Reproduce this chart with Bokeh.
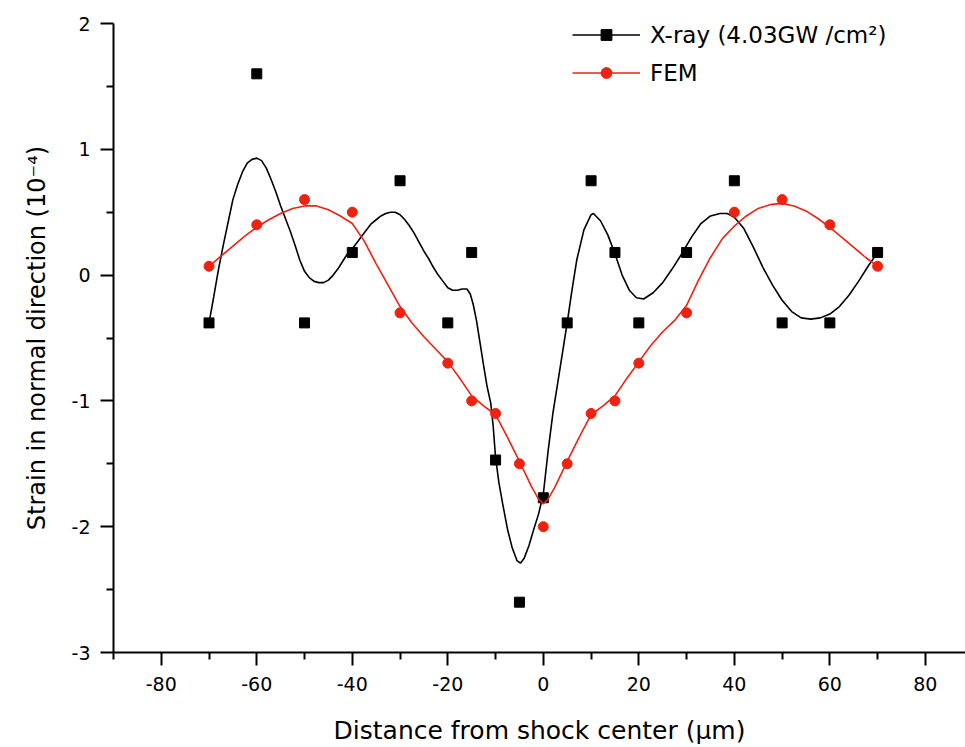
from bokeh.plotting import figure
from bokeh.models import Range1d, FixedTicker, Legend, LegendItem
from bokeh.embed import file_html
from bokeh.resources import INLINE

# Measured strain values (units of 1e-4) at each distance from the shock centre (um)
distance = [-70, -60, -50, -40, -30, -20, -15, -10, -5, 0, 5, 10, 15, 20, 30, 40, 50, 60, 70]
xray_strain = [-0.38, 1.6, -0.38, 0.18, 0.75, -0.38, 0.18, -1.47, -2.6, -1.77,
               -0.38, 0.75, 0.18, -0.38, 0.18, 0.75, -0.38, -0.38, 0.18]
fem_strain = [0.07, 0.4, 0.6, 0.5, -0.3, -0.7, -1.0, -1.1, -1.5, -2.0,
              -1.5, -1.1, -1.0, -0.7, -0.3, 0.5, 0.6, 0.4, 0.07]

# Smoothed fit curve through the X-ray measurements
xray_fit_x = [-70, -69, -68, -67, -66, -65, -64, -63, -62, -61, -60, -59, -58, -57, -56,
              -55, -54, -53, -52, -51, -50, -49, -48, -47, -46, -45, -44, -43, -42, -41,
              -40, -39, -38, -37, -36, -35, -34, -33, -32, -31, -30, -29, -28, -27, -26,
              -25, -24, -23, -22, -21, -20, -19, -18, -17, -16, -15.3, -14.7, -14, -13.2,
              -12.5, -11.8, -11, -10.5, -10, -9.3, -8.5, -7.5, -6.5, -5.5, -4.8, -4, -3,
              -2, -1, 0, 1, 2, 3, 4, 5, 6, 7, 8.5, 10, 10.5, 12, 13.5, 15, 16.5, 18,
              19.5, 21, 23, 25, 27, 29, 31, 33, 35, 37, 38.5, 40, 42, 44, 46, 48, 50,
              52, 54, 56, 58, 60, 62, 64, 66, 68, 70]
xray_fit_y = [-0.38, -0.17, 0.05, 0.24, 0.42, 0.6, 0.72, 0.82, 0.89, 0.92, 0.93, 0.91, 0.85,
              0.76, 0.66, 0.55, 0.45, 0.35, 0.24, 0.12, 0.03, -0.02, -0.05, -0.06, -0.06,
              -0.04, 0.0, 0.05, 0.11, 0.17, 0.21, 0.26, 0.31, 0.36, 0.41, 0.44, 0.47, 0.49,
              0.5, 0.5, 0.48, 0.44, 0.39, 0.33, 0.26, 0.19, 0.13, 0.06, 0.0, -0.05, -0.1,
              -0.12, -0.12, -0.11, -0.11, -0.15, -0.23, -0.36, -0.55, -0.72, -0.88, -1.02,
              -1.2, -1.45, -1.65, -1.82, -2.02, -2.17, -2.27, -2.29, -2.25, -2.15, -2.02,
              -1.9, -1.74, -1.4, -1.1, -0.86, -0.62, -0.38, -0.12, 0.12, 0.36, 0.48, 0.49,
              0.43, 0.32, 0.17, 0.0, -0.12, -0.18, -0.19, -0.14, -0.06, 0.05, 0.17, 0.3,
              0.41, 0.47, 0.49, 0.49, 0.46, 0.37, 0.22, 0.06, -0.08, -0.2, -0.29, -0.34,
              -0.35, -0.34, -0.31, -0.25, -0.16, -0.05, 0.07, 0.18]

# Smoothed curve through the finite-element results
fem_fit_x = [-70, -67.5, -65, -62.5, -60, -57.5, -55, -52.5, -50, -47.5, -45, -42.5, -40,
             -37.5, -35, -32.5, -30, -27.5, -25, -22.5, -20, -17.5, -15, -12.5, -10, -7.5,
             -5, -2.5, -1, 0, 1, 2.5, 5, 7.5, 10, 12.5, 15, 17.5, 20, 22.5, 25, 27.5, 30,
             32.5, 35, 37.5, 40, 42.5, 45, 47.5, 50, 52.5, 55, 57.5, 60, 62.5, 65, 67.5, 70]
fem_fit_y = [0.07, 0.15, 0.23, 0.31, 0.38, 0.44, 0.49, 0.53, 0.55, 0.55, 0.52, 0.47, 0.41,
             0.27, 0.09, -0.08, -0.25, -0.38, -0.49, -0.59, -0.69, -0.82, -0.96, -1.04,
             -1.11, -1.29, -1.48, -1.68, -1.78, -1.82, -1.78, -1.68, -1.48, -1.29, -1.11,
             -1.04, -0.96, -0.82, -0.69, -0.56, -0.45, -0.36, -0.24, -0.04, 0.14, 0.29,
             0.39, 0.47, 0.53, 0.56, 0.57, 0.55, 0.51, 0.45, 0.38, 0.3, 0.22, 0.14, 0.07]

x_ticks = [-80, -60, -40, -20, 0, 20, 40, 60, 80]
y_ticks = [-3, -2, -1, 0, 1, 2]

RED = "#ee2211"
FONT = "DejaVu Sans"

p = figure(width=965, height=747, output_backend="svg", toolbar_location=None,
           x_range=Range1d(-90, 88.4), y_range=Range1d(-3, 2),
           min_border_left=113, min_border_right=0, min_border_top=23,
           min_border_bottom=95)
p.outline_line_color = None
p.xgrid.visible = False
p.ygrid.visible = False
p.background_fill_color = "white"
p.border_fill_color = "white"

xray_line = p.line(xray_fit_x, xray_fit_y, line_color="black", line_width=1.6)
xray_pts = p.scatter(distance, xray_strain, marker="square", size=10,
                     fill_color="black", line_color="black")
fem_line = p.line(fem_fit_x, fem_fit_y, line_color=RED, line_width=1.6)
fem_pts = p.scatter(distance, fem_strain, marker="circle", size=10,
                    fill_color=RED, line_color=RED)

for ax, ticks in ((p.xaxis[0], x_ticks), (p.yaxis[0], y_ticks)):
    step = ticks[1] - ticks[0]
    ax.ticker = FixedTicker(ticks=ticks,
                            minor_ticks=[t + step / 2 for t in ticks[:-1]]
                            + [ticks[0] - step / 2])
    # plain hyphen for negative numbers
    ax.major_label_overrides = {t: str(t) for t in ticks}
    ax.axis_line_width = 2
    ax.axis_line_color = "black"
    ax.major_tick_line_width = 2
    ax.minor_tick_line_width = 2
    ax.major_tick_out = 13
    ax.major_tick_in = 0
    ax.minor_tick_out = 7
    ax.minor_tick_in = 0
    ax.major_label_text_font = FONT
    ax.major_label_text_font_size = "19px"
    ax.major_label_text_color = "black"
    ax.axis_label_text_font = FONT
    ax.axis_label_text_font_style = "normal"
    ax.axis_label_text_color = "black"

p.xaxis.axis_label = "Distance from shock center (\u03bcm)"
p.xaxis.axis_label_text_font_size = "25px"
p.xaxis.major_label_standoff = 11
p.xaxis.axis_label_standoff = 22

p.yaxis.axis_label = "Strain in normal direction (10\u207b\u2074)"
p.yaxis.axis_label_text_font_size = "24px"
p.yaxis.major_label_standoff = 10
p.yaxis.axis_label_standoff = 18

legend = Legend(items=[
    LegendItem(label="X-ray (4.03GW /cm\u00b2)", renderers=[xray_line, xray_pts]),
    LegendItem(label="FEM", renderers=[fem_line, fem_pts]),
], location=(459, 566))
legend.padding = 0
legend.margin = 0
legend.spacing = 11
legend.glyph_width = 68
legend.glyph_height = 27
legend.label_height = 27
legend.label_standoff = 10
legend.label_text_font = FONT
legend.label_text_font_size = "23px"
legend.label_text_color = "black"
legend.border_line_alpha = 0
legend.background_fill_alpha = 0
p.add_layout(legend)

open("out.html", "w").write(file_html(p, INLINE))
